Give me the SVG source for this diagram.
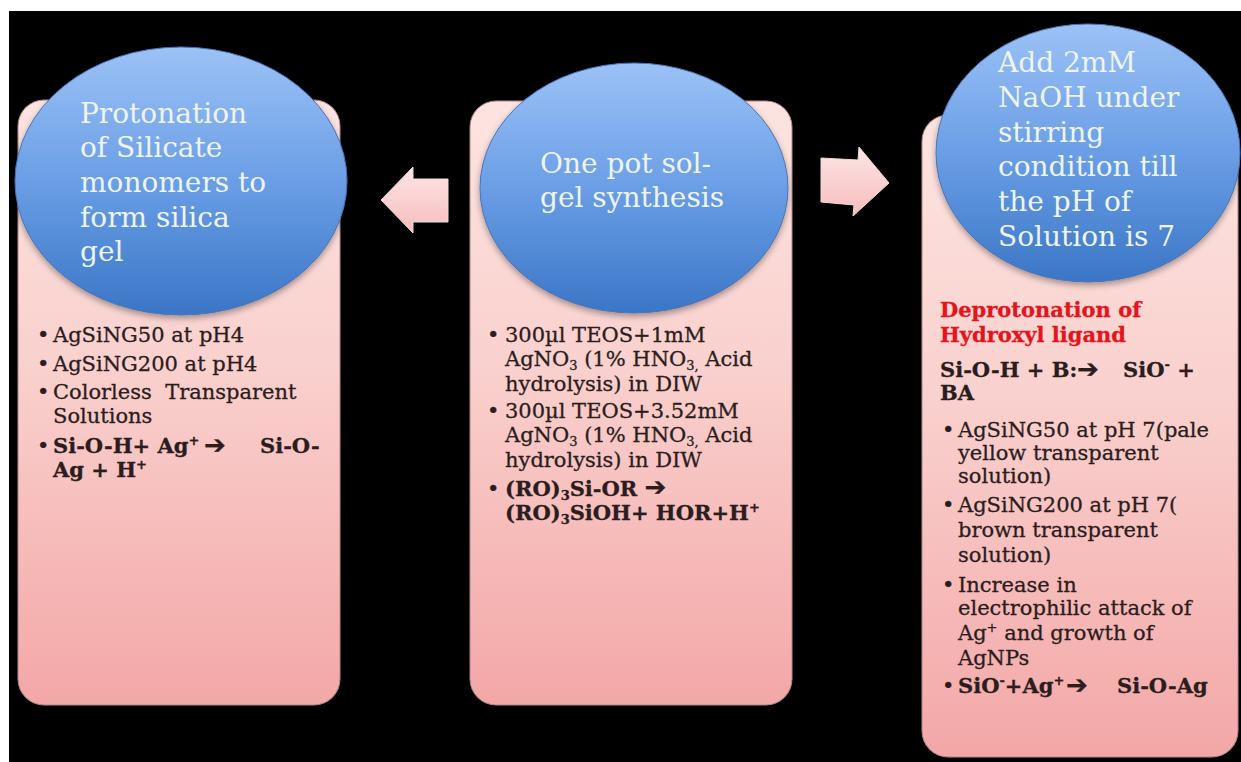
<svg xmlns="http://www.w3.org/2000/svg" width="1241" height="762" viewBox="0 0 1241 762">
<defs>
<linearGradient id="panelG" x1="0" y1="0" x2="0" y2="1">
<stop offset="0" stop-color="#fde4e0"/>
<stop offset="0.45" stop-color="#f9d0cd"/>
<stop offset="1" stop-color="#f3a7a7"/>
</linearGradient>
<linearGradient id="circG" x1="0" y1="0" x2="0" y2="1">
<stop offset="0" stop-color="#9cc2f6"/>
<stop offset="0.5" stop-color="#6a9ee6"/>
<stop offset="1" stop-color="#3b76c6"/>
</linearGradient>
<linearGradient id="arrG" x1="0" y1="0" x2="0" y2="1">
<stop offset="0" stop-color="#fde6e6"/>
<stop offset="1" stop-color="#f6bcbc"/>
</linearGradient>
<filter id="sh" x="-10%" y="-10%" width="120%" height="125%">
<feDropShadow dx="0" dy="3" stdDeviation="3" flood-color="#000" flood-opacity="0.35"/>
</filter>
<style>
.panel{fill:url(#panelG);stroke:#b08888;stroke-width:1}
.circ{fill:url(#circG);stroke:#4a74b4;stroke-width:1}
.ct{font-family:"DejaVu Serif","Liberation Serif",serif;font-size:28px;fill:#eef4e8}
.bt{font-family:"DejaVu Serif","Liberation Serif",serif;font-size:21px;fill:#2b1d1d;stroke:#2b1d1d;stroke-width:0.3;white-space:pre}
.bd{font-weight:bold}
.red{fill:#e3141b;stroke:#e3141b;font-weight:bold}
.ar{font-family:"DejaVu Sans",sans-serif;font-weight:bold;font-size:26px}
.arrow{fill:url(#arrG);stroke:#f4d8d8;stroke-width:1}
</style>
</defs>
<rect x="0" y="0" width="1241" height="762" fill="#ffffff"/>
<rect x="9" y="11" width="1232" height="751" fill="#000000"/>

<g id="connectors">
<polygon class="arrow" points="381,200 413,167 413,179 448,179 448,222 413,222 413,233"/>
<polygon class="arrow" points="821,158 858,160 859,147 889,183 853,216 854,205 821,202"/>
</g>

<g id="node-left">
<rect class="panel" x="18" y="100" width="322" height="605" rx="26"/>
<ellipse class="circ" cx="181" cy="181" rx="166" ry="134" filter="url(#sh)"/>
<text class="ct" x="80" y="123">Protonation</text>
<text class="ct" x="80" y="157">of Silicate</text>
<text class="ct" x="80" y="192">monomers to</text>
<text class="ct" x="80" y="227">form silica</text>
<text class="ct" x="80" y="261">gel</text>
<text class="bt" x="37" y="342">•</text><text class="bt" x="53" y="342">AgSiNG50 at pH4</text>
<text class="bt" x="37" y="371">•</text><text class="bt" x="53" y="371">AgSiNG200 at pH4</text>
<text class="bt" x="37" y="399">•</text><text class="bt" x="53" y="399">Colorless  Transparent</text>
<text class="bt" x="53" y="423">Solutions</text>
<text class="bt" x="37" y="453">•</text>
<text class="bt bd" x="53" y="453">Si-O-H+ Ag<tspan font-size="13" dy="-8">+</tspan></text>
<text class="bt ar" x="204" y="454">➔</text>
<text class="bt bd" x="260" y="453">Si-O-</text>
<text class="bt bd" x="53" y="477">Ag + H<tspan font-size="13" dy="-8">+</tspan></text>
</g>

<g id="node-middle">
<rect class="panel" x="470" y="101" width="322" height="604" rx="26"/>
<ellipse class="circ" cx="634" cy="188" rx="154" ry="125" filter="url(#sh)"/>
<text class="ct" x="540" y="173">One pot sol-</text>
<text class="ct" x="540" y="207">gel synthesis</text>
<text class="bt" x="487" y="342">•</text><text class="bt" x="505" y="342">300µl TEOS+1mM</text>
<text class="bt" x="505" y="366">AgNO<tspan font-size="13" dy="4">3</tspan><tspan dy="-4"> (1% HNO</tspan><tspan font-size="13" dy="4">3,</tspan><tspan dy="-4"> Acid</tspan></text>
<text class="bt" x="505" y="391">hydrolysis) in DIW</text>
<text class="bt" x="487" y="418">•</text><text class="bt" x="505" y="418">300µl TEOS+3.52mM</text>
<text class="bt" x="505" y="442">AgNO<tspan font-size="13" dy="4">3</tspan><tspan dy="-4"> (1% HNO</tspan><tspan font-size="13" dy="4">3,</tspan><tspan dy="-4"> Acid</tspan></text>
<text class="bt" x="505" y="467">hydrolysis) in DIW</text>
<text class="bt" x="487" y="496">•</text>
<text class="bt bd" x="505" y="496">(RO)<tspan font-size="13" dy="4">3</tspan><tspan dy="-4">Si-OR </tspan><tspan class="ar">➔</tspan></text>
<text class="bt bd" x="505" y="520">(RO)<tspan font-size="13" dy="4">3</tspan><tspan dy="-4">SiOH+ HOR+H</tspan><tspan font-size="13" dy="-8">+</tspan></text>
</g>

<g id="node-right">
<rect class="panel" x="922" y="115" width="316" height="642" rx="26"/>
<ellipse class="circ" cx="1088" cy="153" rx="152" ry="129" filter="url(#sh)"/>
<text class="ct" x="998" y="72">Add 2mM</text>
<text class="ct" x="998" y="107">NaOH under</text>
<text class="ct" x="998" y="142">stirring</text>
<text class="ct" x="998" y="176">condition till</text>
<text class="ct" x="998" y="211">the pH of</text>
<text class="ct" x="998" y="246">Solution is 7</text>
<text class="bt red" x="940" y="317">Deprotonation of</text>
<text class="bt red" x="940" y="342">Hydroxyl ligand</text>
<text class="bt bd" x="940" y="377">Si-O-H + B:</text>
<text class="bt ar" x="1077" y="378">➔</text>
<text class="bt bd" x="1123" y="377">SiO<tspan font-size="13" dy="-8">-</tspan><tspan dy="8"> +</tspan></text>
<text class="bt bd" x="940" y="400">BA</text>
<text class="bt" x="942" y="437">•</text><text class="bt" x="958" y="437">AgSiNG50 at pH 7(pale</text>
<text class="bt" x="958" y="460">yellow transparent</text>
<text class="bt" x="958" y="483">solution)</text>
<text class="bt" x="942" y="512">•</text><text class="bt" x="958" y="512">AgSiNG200 at pH 7(</text>
<text class="bt" x="958" y="537">brown transparent</text>
<text class="bt" x="958" y="562">solution)</text>
<text class="bt" x="942" y="592">•</text><text class="bt" x="958" y="592">Increase in</text>
<text class="bt" x="958" y="615">electrophilic attack of</text>
<text class="bt" x="958" y="640">Ag<tspan font-size="13" dy="-8">+</tspan><tspan dy="8"> and growth of</tspan></text>
<text class="bt" x="958" y="665">AgNPs</text>
<text class="bt" x="942" y="693">•</text>
<text class="bt bd" x="958" y="693">SiO<tspan font-size="13" dy="-8">-</tspan><tspan dy="8">+Ag</tspan><tspan font-size="13" dy="-8">+</tspan></text>
<text class="bt ar" x="1066" y="694">➔</text>
<text class="bt bd" x="1117" y="693">Si-O-Ag</text>
</g>
</svg>
